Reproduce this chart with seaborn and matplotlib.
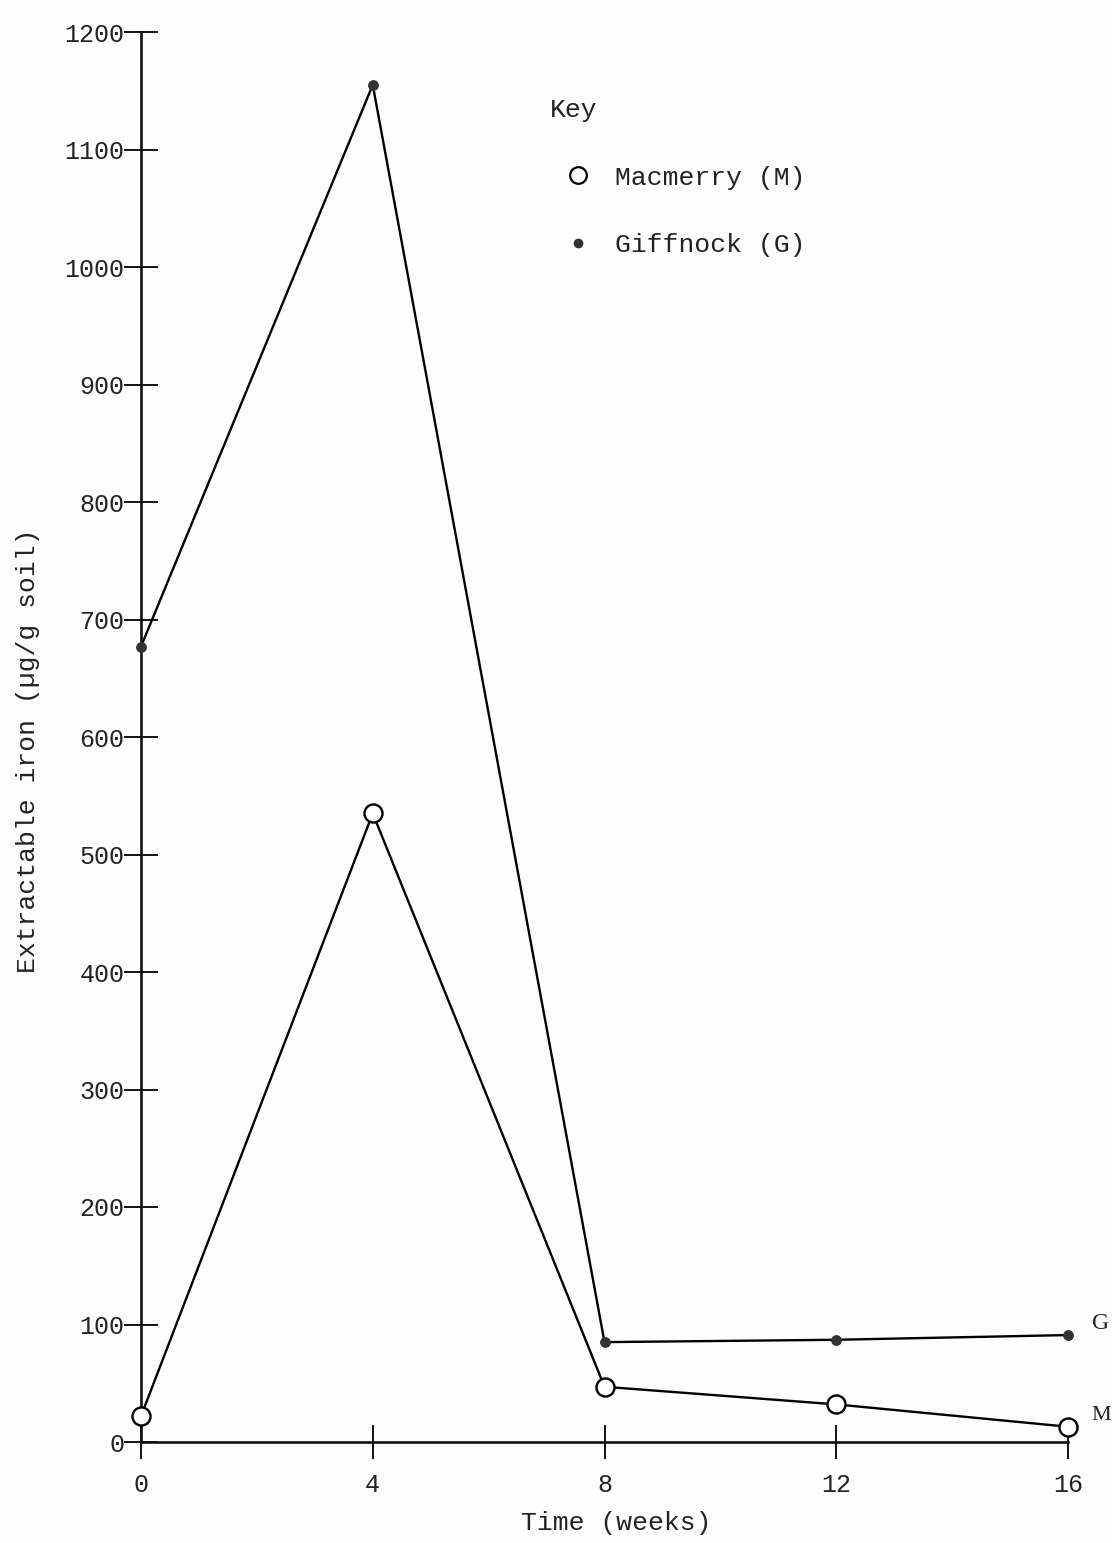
import matplotlib
matplotlib.use("Agg")
import matplotlib.pyplot as plt
import seaborn as sns
import pandas as pd
from matplotlib.lines import Line2D

weeks = [0, 4, 8, 12, 16]
macmerry = [22, 535, 47, 32, 13]
giffnock = [677, 1155, 85, 87, 91]
x_ticks = [0, 4, 8, 12, 16]
y_ticks = [0, 100, 200, 300, 400, 500, 600, 700, 800, 900, 1000, 1100, 1200]

sns.set_theme(style="white")
plt.rcParams['font.family'] = ['Liberation Mono', 'DejaVu Sans Mono', 'DejaVu Sans']

fig = plt.figure(figsize=(11.12, 15.43), dpi=100, facecolor='#fdfdfd')
ax = fig.add_axes([141/1112, 1-1442/1543, (1068-141)/1112, (1442-32)/1543])
ax.set_facecolor('#fdfdfd')

df_g = pd.DataFrame({'week': weeks, 'iron': giffnock})
df_m = pd.DataFrame({'week': weeks, 'iron': macmerry})

sns.lineplot(data=df_g, x='week', y='iron', ax=ax, color='black', linewidth=1.7,
             marker='o', markersize=7, markerfacecolor='#333333', markeredgecolor='#333333',
             clip_on=False, zorder=3)
sns.lineplot(data=df_m, x='week', y='iron', ax=ax, color='black', linewidth=1.7,
             marker='o', markersize=13, markerfacecolor='white', markeredgecolor='black',
             markeredgewidth=1.7, clip_on=False, zorder=4)

ax.set_xlim(0, 16)
ax.set_ylim(0, 1200)
ax.set_xticks(x_ticks)
ax.set_yticks(y_ticks)
ax.set_xticklabels([str(v) for v in x_ticks])
ax.set_yticklabels([str(v) for v in y_ticks])

for s in ['top', 'right']:
    ax.spines[s].set_visible(False)
for s in ['left', 'bottom']:
    ax.spines[s].set_linewidth(1.9)
    ax.spines[s].set_color('#111111')

ax.tick_params(axis='both', which='major', bottom=True, left=True, direction='inout',
               length=24, width=1.4, colors='#111111', labelsize=18, labelcolor='#222222')
ax.tick_params(axis='y', pad=0)
ax.tick_params(axis='x', pad=10)

ax.set_xlabel('Time (weeks)', fontsize=19, color='#222222')
ax.set_ylabel('Extractable iron (µg/g soil)', fontsize=19, color='#222222')
ax.xaxis.set_label_coords(0.513, -0.049)
ax.yaxis.set_label_coords(-0.109, 0.49)

ax.annotate('G', xy=(weeks[-1], giffnock[-1]), xytext=(17, 8), textcoords='offset points',
            fontsize=17, family='Liberation Serif', va='center', ha='left', color='#222222',
            annotation_clip=False)
ax.annotate('M', xy=(weeks[-1], macmerry[-1]), xytext=(17, 8), textcoords='offset points',
            fontsize=16, family='Liberation Serif', va='center', ha='left', color='#222222',
            annotation_clip=False)

handles = [
    Line2D([], [], linestyle='none', marker='o', markersize=12, markerfacecolor='white',
           markeredgecolor='black', markeredgewidth=1.6),
    Line2D([], [], linestyle='none', marker='o', markersize=6, markerfacecolor='#333333',
           markeredgecolor='#333333'),
]
leg = ax.legend(handles, ['Macmerry (M)', 'Giffnock (G)'], title='Key', frameon=False,
                alignment='left', loc='upper left', bbox_to_anchor=(550/1112, 1-98/1543),
                bbox_transform=fig.transFigure, borderpad=0, borderaxespad=0,
                handlelength=2.1, handletextpad=0.35, labelspacing=1.65,
                fontsize=19, title_fontsize=19)
for t in leg.get_texts():
    t.set_color('#222222')
leg.get_title().set_color('#222222')

fig.savefig('out.png', dpi=100, facecolor=fig.get_facecolor())
